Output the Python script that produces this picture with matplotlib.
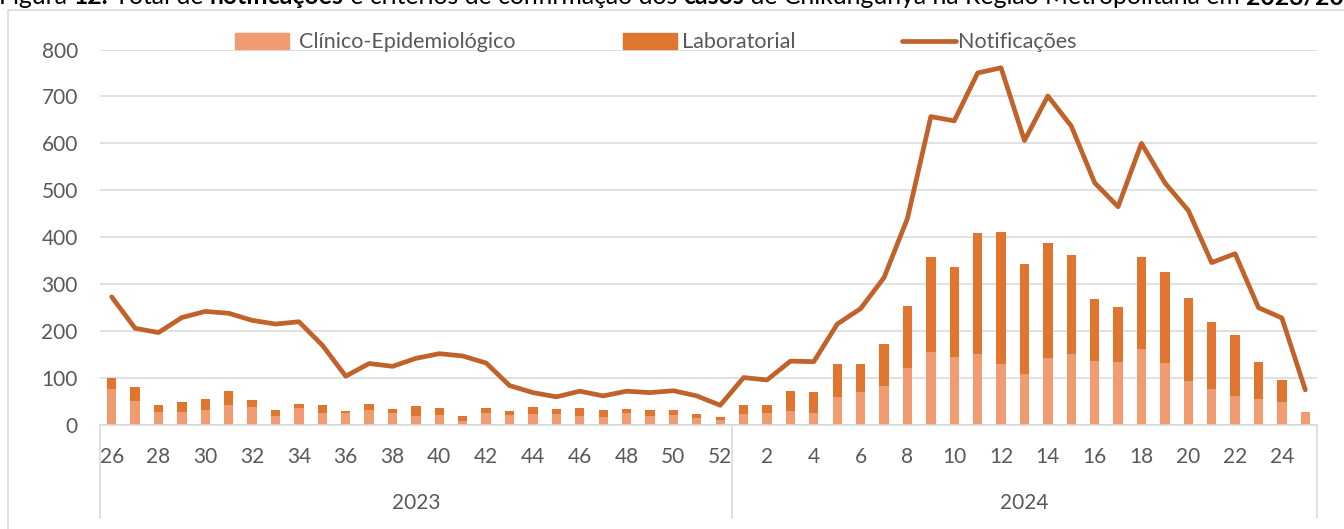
import matplotlib.pyplot as plt
from matplotlib.lines import Line2D
from matplotlib.patches import Patch, Rectangle

plt.rcParams['font.family'] = ['Lato', 'DejaVu Sans']

# semanas epidemiologicas
semanas_2023 = list(range(26, 53))
semanas_2024 = list(range(1, 26))
anos = ["2023", "2024"]

clinico = [77, 52, 28, 28, 33, 42, 39, 19, 37, 25, 25, 31, 25, 20, 21, 9, 25, 21,
           24, 24, 20, 17, 26, 20, 21, 15, 11,
           23, 26, 30, 26, 60, 70, 83, 121, 155, 145, 151, 130, 108, 143, 151, 136,
           134, 161, 132, 94, 77, 62, 55, 49, 28]
laboratorial = [23, 28, 14, 22, 22, 30, 15, 14, 8, 17, 4, 14, 10, 20, 16, 10, 11, 9,
                14, 10, 16, 15, 9, 13, 12, 8, 6,
                19, 16, 42, 44, 69, 59, 90, 132, 203, 191, 259, 282, 235, 244, 211, 133,
                117, 197, 195, 177, 142, 129, 79, 46, 0]
notificacoes = [273, 206, 197, 229, 242, 238, 223, 215, 220, 170, 104, 131, 125, 142,
                152, 147, 132, 84, 69, 60, 72, 62, 72, 69, 73, 62, 42,
                101, 96, 136, 135, 215, 248, 314, 440, 657, 648, 750, 761, 606, 701,
                637, 516, 465, 600, 516, 457, 346, 365, 250, 228, 75]

c_clin = "#F19B70"
c_lab = "#E07530"
c_line = "#C0622A"
c_txt = "#595959"
c_grid = "#D9D9D9"

semanas = semanas_2023 + semanas_2024
x = list(range(len(semanas)))

W, H = 1344, 529
fig = plt.figure(figsize=(W / 100, H / 100), dpi=100)
ax = fig.add_axes([100 / W, (H - 425) / H, (1317 - 100) / W, (425 - 49.5) / H])

ax.bar(x, clinico, width=0.4, color=c_clin, zorder=2)
ax.bar(x, laboratorial, width=0.4, bottom=clinico, color=c_lab, zorder=2)
ax.plot(x, notificacoes, color=c_line, lw=3.4, zorder=3,
        solid_capstyle="round", solid_joinstyle="round")

ax.set_xlim(-0.5, len(x) - 0.5)
ax.set_ylim(0, 800)
ax.set_yticks(range(0, 801, 100))
ax.yaxis.grid(True, color=c_grid, lw=1.1)
ax.set_axisbelow(True)
for s in ["top", "right", "left"]:
    ax.spines[s].set_visible(False)
ax.spines["bottom"].set_color(c_grid)
ax.spines["bottom"].set_linewidth(1.1)

ax.set_xticks(x[::2])
ax.set_xticklabels([str(s) for s in semanas[::2]])
ax.tick_params(axis="x", length=0, pad=16, labelsize=15, labelcolor=c_txt)
ax.tick_params(axis="y", length=0, pad=16, labelsize=15, labelcolor=c_txt)

# segundo nivel do eixo: anos
n23 = len(semanas_2023)
trans = ax.get_xaxis_transform()
y_low = -(518 - 425) / (425 - 49.5)
for xs in [-0.5, n23 - 0.5, len(x) - 0.5]:
    ax.plot([xs, xs], [0, y_low], color=c_grid, lw=1.1, transform=trans, clip_on=False)
y_ano = -(503 - 425) / (425 - 49.5)
ax.text((n23 - 1) / 2, y_ano, anos[0], transform=trans, ha="center", va="center",
        fontsize=15, color=c_txt)
ax.text(n23 + (len(x) - n23 - 1) / 2, y_ano, anos[1], transform=trans, ha="center",
        va="center", fontsize=15, color=c_txt)

# legenda
leg_y = 1 - 42.5 / H
itens = [
    (Patch(color=c_clin), "Clínico-Epidemiológico", 235, 0.45),
    (Patch(color=c_lab), "Laboratorial", 623, 0.22),
    (Line2D([], [], color=c_line, lw=3.4, solid_capstyle="round"), "Notificações", 902, 0.12),
]
for h, lab, px, pad in itens:
    fig.legend([h], [lab], loc="center left", bbox_to_anchor=(px / W, leg_y),
               frameon=False, borderpad=0, borderaxespad=0, handlelength=2.5,
               handleheight=0.7, handletextpad=pad, fontsize=15.5, labelcolor=c_txt)

# moldura do grafico
fig.patches.append(Rectangle((8 / W, -0.1), 1.2, 1.1 - 10 / H, transform=fig.transFigure,
                             fill=False, ec=c_grid, lw=1.1))

# titulo (cortado no topo, como na figura original)
partes = [("Figura ", "normal"), ("12.", "bold"), (" Total de ", "normal"),
          ("notificações", "bold"), (" e critérios de confirmação dos ", "normal"),
          ("casos", "bold"), (" de Chikungunya na Região Metropolitana em ", "normal"),
          ("2023/2024", "bold")]
fs_tit = 17.8
prev = fig.text(-1 / W, 1 - 4.5 / H, partes[0][0], fontsize=fs_tit, va="baseline",
                fontweight=partes[0][1], color="black")
for txt, fw in partes[1:]:
    prev = ax.annotate(txt, xy=(1, 0), xycoords=prev, va="bottom", ha="left",
                       fontsize=fs_tit, fontweight=fw, color="black",
                       annotation_clip=False)

fig.savefig("out.png", dpi=100)
